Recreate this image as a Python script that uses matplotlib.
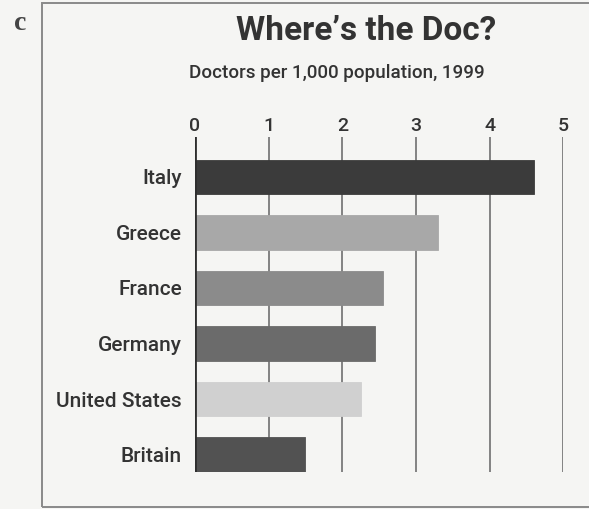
import matplotlib
matplotlib.use("Agg")
import matplotlib.pyplot as plt
from matplotlib.patches import Rectangle

countries = ["Italy", "Greece", "France", "Germany", "United States", "Britain"]
doctors = [4.6, 3.3, 2.55, 2.45, 2.25, 1.5]
bar_colors = ["#3b3b3b", "#a8a8a8", "#8b8b8b", "#6b6b6b", "#d0d0d0", "#525252"]
ticks = [0, 1, 2, 3, 4, 5]

sans = ["Roboto", "DejaVu Sans"]
paper = "#f5f5f3"
ink = "#333333"

fig = plt.figure(figsize=(5.89, 5.09), dpi=100, facecolor=paper)

# frame around the panel, open to the right
fig.patches.append(Rectangle((42 / 589, 1 - 507 / 509), 1.0, (507 - 3) / 509,
                             transform=fig.transFigure, fill=False,
                             edgecolor="#8a8a8a", linewidth=1.4))

ax = fig.add_axes([195 / 589, 1 - 472 / 509, 368.3 / 589, (472 - 137) / 509])
ax.set_facecolor(paper)

ypos = list(range(len(countries)))
ax.barh(ypos, doctors, height=0.62, color=bar_colors,
        edgecolor=bar_colors, linewidth=0.6, zorder=3)

ax.set_xlim(0, 5)
ax.set_ylim(5.315, -0.72)

for t in ticks[1:]:
    ax.axvline(t, color="#7a7a7a", linewidth=1.3, zorder=1)
ax.axvline(0, color="#2e2e2e", linewidth=2.0, zorder=4)

for s in ax.spines.values():
    s.set_visible(False)

ax.xaxis.tick_top()
ax.set_xticks(ticks)
ax.set_xticklabels([str(t) for t in ticks], family=sans, fontsize=14,
                   fontweight="medium", color=ink)
ax.tick_params(axis="x", length=0, pad=1.5)

ax.set_yticks(ypos)
ax.set_yticklabels(countries, family=sans, fontsize=15, fontweight="medium", color=ink)
ax.tick_params(axis="y", length=0, pad=9.5)

fig.text(366 / 589, 1 - 31 / 509, "Where\u2019s the Doc?", family=sans,
         fontsize=24, fontweight="bold", color="#333333", ha="center", va="center")
fig.text(337 / 589, 1 - 73 / 509, "Doctors per 1,000 population, 1999", family=sans,
         fontsize=13.5, fontweight="medium", color=ink, ha="center", va="center")
fig.text(20 / 589, 1 - 24 / 509, "c", family=["Liberation Serif", "DejaVu Serif"],
         fontsize=20, fontweight="bold", color="#444444", ha="center", va="center")

fig.savefig("out.png", dpi=100, facecolor=paper)
